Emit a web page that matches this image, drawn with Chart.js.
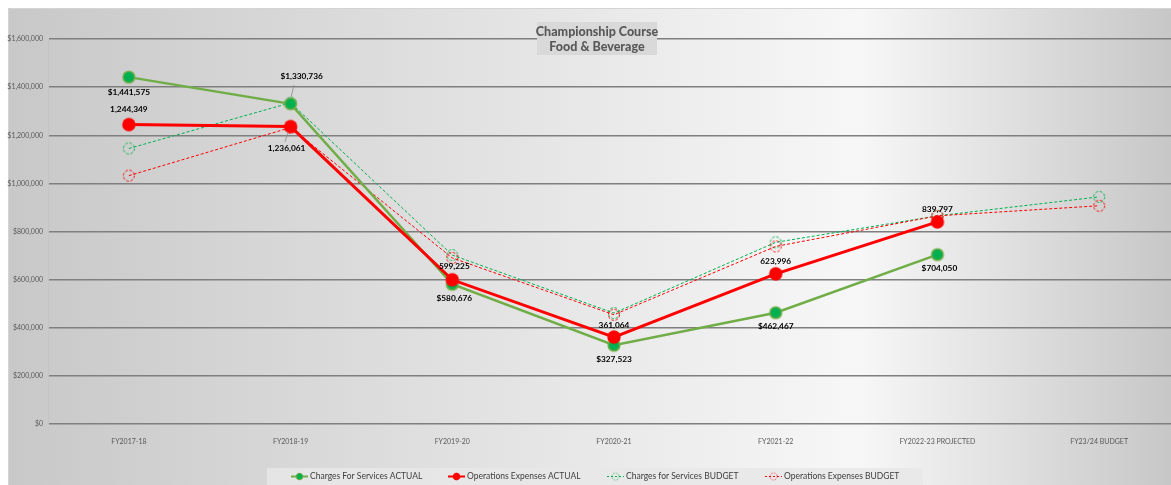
<!DOCTYPE html>
<html>
<head>
<meta charset="utf-8">
<script src="https://cdn.jsdelivr.net/npm/chart.js@4.4.1/dist/chart.umd.min.js"></script>
<style>
  html, body { margin: 0; padding: 0; background: #fff; overflow: hidden; }
  #wrap { position: absolute; left: 0; top: 0; width: 1190px; height: 485px; }
</style>
</head>
<body>
<div id="wrap"><canvas id="chart"></canvas></div>
<script>
// --- data ---
const categories = ['FY2017-18', 'FY2018-19', 'FY2019-20', 'FY2020-21', 'FY2021-22', 'FY2022-23 PROJECTED', 'FY23/24 BUDGET'];
const chargesActual = [1441575, 1330736, 580676, 327523, 462467, 704050, null];
const opsActual = [1244349, 1236061, 599225, 361064, 623996, 839797, null];
const chargesBudget = [1145000, 1335000, 702000, 461000, 755000, 865000, 944000];
const opsBudget = [1032000, 1232000, 690000, 454000, 738000, 865000, 907000];
const yTicks = [0, 200000, 400000, 600000, 800000, 1000000, 1200000, 1400000, 1600000];
const titleLines = ['Championship Course', 'Food & Beverage'];

const FONT = 'Lato, "Open Sans", sans-serif';

// marker images (budget ones get a dashed outline)
function makeMarker(fill, stroke, r, lw, dashed) {
    const c = document.createElement('canvas');
    const s = Math.ceil(r * 2 + lw + 2);
    c.width = s; c.height = s;
    const g = c.getContext('2d');
    g.beginPath();
    g.arc(s / 2, s / 2, r, 0, Math.PI * 2);
    if (fill) { g.fillStyle = fill; g.fill(); }
    if (stroke) {
        g.lineWidth = lw;
        g.strokeStyle = stroke;
        if (dashed) g.setLineDash([2.5, 1.8]);
        g.stroke();
    }
    return c;
}
const mkChargesA = makeMarker('#00B050', '#70AD47', 5.8, 1.6, false);
const mkOpsA = makeMarker('#FF0000', null, 6.7, 0, false);
const mkChargesB = makeMarker(null, '#00B050', 5.5, 1, true);
const mkOpsB = makeMarker(null, '#FF0000', 5.5, 1, true);

// label placement: dy from point, dx, and leader lines
const labelPlace = {
    0: { dy: [15, -27, 14, 14, 14, 14], dx: [0, 11, 2, 0, 0, 2], leader: [null, [[294, 85], [291, 97]], null, null, null, null], prefix: '$' },
    1: { dy: [-15, 22, -13, -12, -13, -13], dx: [0, -4, 2, 0, 0, 0], leader: [null, [[288, 132], [285, 142]], null, null, null, null], prefix: '' }
};

const bgPlugin = {
    id: 'bg',
    beforeDraw(chart) {
        const ctx = chart.ctx;
        const w = chart.width, h = chart.height;
        ctx.save();
        const grad = ctx.createLinearGradient(8, 0, w, 0);
        grad.addColorStop(0, '#c8c8c8');
        grad.addColorStop(0.72, '#f7f7f7');
        grad.addColorStop(1, '#c4c4c4');
        ctx.fillStyle = grad;
        ctx.fillRect(8, 8, w - 8, h - 8);
        ctx.strokeStyle = '#d4d4d4';
        ctx.lineWidth = 1;
        ctx.beginPath();
        ctx.moveTo(8.5, h); ctx.lineTo(8.5, 8.5); ctx.lineTo(w, 8.5);
        ctx.stroke();
        ctx.restore();
    }
};

const overlayPlugin = {
    id: 'overlay',
    afterDatasetsDraw(chart) {
        const ctx = chart.ctx;
        ctx.save();
        // data labels
        ctx.font = 'bold 8.3px ' + FONT;
        ctx.textAlign = 'center';
        ctx.textBaseline = 'middle';
        Object.keys(labelPlace).forEach(k => {
            const di = Number(k);
            const cfg = labelPlace[di];
            const meta = chart.getDatasetMeta(di);
            chart.data.datasets[di].data.forEach((v, i) => {
                if (v == null) return;
                const pt = meta.data[i];
                if (cfg.leader[i]) {
                    ctx.strokeStyle = '#8c8c8c';
                    ctx.lineWidth = 0.8;
                    ctx.beginPath();
                    ctx.moveTo(cfg.leader[i][0][0], cfg.leader[i][0][1]);
                    ctx.lineTo(cfg.leader[i][1][0], cfg.leader[i][1][1]);
                    ctx.stroke();
                }
                ctx.fillStyle = '#000';
                ctx.fillText(cfg.prefix + v.toLocaleString('en-US'), pt.x + cfg.dx[i], pt.y + cfg.dy[i]);
            });
        });
        ctx.restore();
    },
    afterDraw(chart) {
        const ctx = chart.ctx;
        ctx.save();
        // title box
        ctx.fillStyle = '#d9d9d9';
        ctx.fillRect(537, 22, 120, 33);
        ctx.fillStyle = '#595959';
        ctx.font = '900 12.5px ' + FONT;
        ctx.textAlign = 'center';
        ctx.textBaseline = 'middle';
        ctx.fillText(titleLines[0], 597, 32);
        ctx.fillText(titleLines[1], 597, 47);

        // legend
        ctx.fillStyle = 'rgba(232,232,232,0.85)';
        ctx.fillRect(267, 468, 656, 17);
        const items = [
            { x: 291, img: mkChargesA, color: '#70AD47', lw: 2, dash: [] },
            { x: 448, img: mkOpsA, color: '#FF0000', lw: 2, dash: [] },
            { x: 607, img: mkChargesB, color: '#00B050', lw: 1, dash: [2, 2] },
            { x: 765, img: mkOpsB, color: '#FF0000', lw: 1, dash: [2, 2] }
        ];
        ctx.font = '8.5px ' + FONT;
        ctx.textAlign = 'left';
        items.forEach((it, i) => {
            const y = 476.5;
            ctx.strokeStyle = it.color;
            ctx.lineWidth = it.lw;
            ctx.setLineDash(it.dash);
            ctx.beginPath();
            ctx.moveTo(it.x, y); ctx.lineTo(it.x + 17, y);
            ctx.stroke();
            ctx.setLineDash([]);
            const s = 9;
            ctx.drawImage(it.img, it.x + 8.5 - s / 2, y - s / 2, s, s);
            ctx.fillStyle = '#404040';
            ctx.fillText(chart.data.datasets[i].label, it.x + 19, y);
        });
        ctx.restore();
    }
};

new Chart(document.getElementById('chart'), {
    type: 'line',
    data: {
        labels: categories,
        datasets: [
            { label: 'Charges For Services ACTUAL', data: chargesActual, borderColor: '#70AD47', borderWidth: 2.5,
              pointStyle: mkChargesA, pointRadius: 7, spanGaps: false, order: 1 },
            { label: 'Operations Expenses ACTUAL', data: opsActual, borderColor: '#FF0000', borderWidth: 3,
              pointStyle: mkOpsA, pointRadius: 7, order: 0 },
            { label: 'Charges for Services BUDGET', data: chargesBudget, borderColor: '#00B050', borderWidth: 1,
              borderDash: [3, 2], pointStyle: mkChargesB, pointRadius: 7, order: 3 },
            { label: 'Operations Expenses BUDGET', data: opsBudget, borderColor: '#FF0000', borderWidth: 1,
              borderDash: [3, 2], pointStyle: mkOpsB, pointRadius: 7, order: 2 }
        ]
    },
    options: {
        responsive: true,
        maintainAspectRatio: false,
        animation: false,
        layout: { padding: { top: 39, right: 10, bottom: 41, left: 0 } },
        plugins: { legend: { display: false }, title: { display: false }, tooltip: { enabled: false } },
        elements: { line: { tension: 0 } },
        scales: {
            x: {
                offset: true,
                grid: { display: false },
                border: { display: false },
                ticks: { color: '#595959', font: { family: FONT, size: 7 }, padding: 6, maxRotation: 0, autoSkip: false },
                afterFit(s) { s.height = 20; }
            },
            y: {
                min: 0, max: 1600000,
                afterBuildTicks(s) { s.ticks = yTicks.map(v => ({ value: v })); },
                grid: { color: '#7f7f7f', lineWidth: 1.5, drawTicks: false },
                border: { display: true, color: '#c4c4c4', width: 1 },
                ticks: {
                    color: '#595959', font: { family: FONT, size: 7 }, padding: 5,
                    callback: v => '$' + Number(v).toLocaleString('en-US')
                },
                afterFit(s) { s.width = 48; }
            }
        }
    },
    plugins: [bgPlugin, overlayPlugin]
});
</script>
</body>
</html>
